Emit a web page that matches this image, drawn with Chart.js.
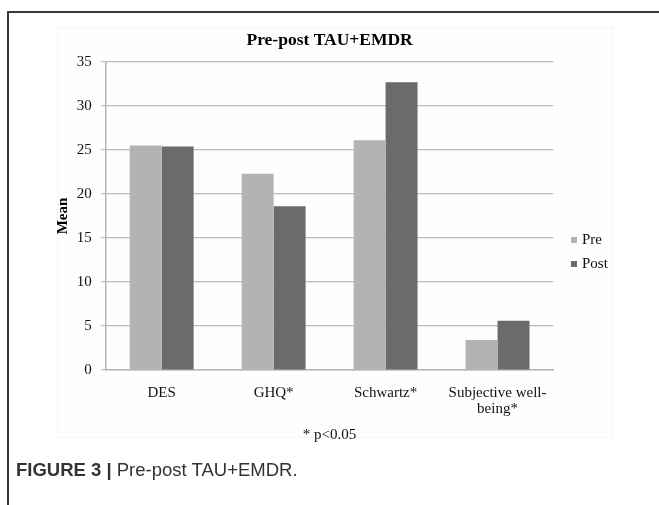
<!DOCTYPE html>
<html>
<head>
<meta charset="utf-8">
<script src="https://cdn.jsdelivr.net/npm/chart.js@4"></script>
<style>
  body { margin: 0; background: #fff; }
  #wrap { position: relative; width: 659px; height: 505px; overflow: hidden; }
  #frame { position: absolute; left: 7px; top: 11px; width: 700px; height: 600px;
           border-left: 2px solid #3a3a3a; border-top: 2px solid #3a3a3a; }
  #panel { position: absolute; left: 57px; top: 27px; width: 554px; height: 409px;
           background: #fefefe; border: 1px solid #f4f4f4; }
  #box { position: absolute; left: 0; top: 0; width: 659px; height: 505px; }
  #legend { position: absolute; left: 571px; top: 229px; font: 15px "Liberation Serif", serif; color: #111; }
  #legend div { height: 23.5px; line-height: 20px; white-space: nowrap; }
  #legend span { display: inline-block; width: 6px; height: 6px; margin-right: 5px; vertical-align: 1px; }
  #caption { position: absolute; left: 16px; top: 459px; font: 18.5px "Liberation Sans", Arial, sans-serif; color: #333; }
</style>
</head>
<body>
<div id="wrap">
  <div id="frame"></div>
  <div id="panel"></div>
  <div id="box"><canvas id="chart"></canvas></div>
  <div id="legend"></div>
  <div id="caption"><b>FIGURE 3 |</b> Pre-post TAU+EMDR.</div>
</div>
<script>
const categories = ['DES', 'GHQ*', 'Schwartz*', ['Subjective well-', 'being*']];
const seriesNames = ['Pre', 'Post'];
const preValues = [25.5, 22.3, 26.1, 3.4];
const postValues = [25.4, 18.6, 32.7, 5.6];
const yTicks = [0, 5, 10, 15, 20, 25, 30, 35];

const colors = ['#b3b3b3', '#6b6b6b'];
const serif = '"Liberation Serif", "Times New Roman", serif';

// keep the chart title centred over the plot area, like the original
const centerTitle = {
    id: 'centerTitle',
    afterLayout(chart) {
        if (chart.titleBlock) {
            chart.titleBlock.left = chart.chartArea.left;
            chart.titleBlock.right = chart.chartArea.right;
        }
    }
};

const ctx = document.getElementById('chart').getContext('2d');
const chart = new Chart(ctx, {
    type: 'bar',
    data: {
        labels: categories,
        datasets: [
            { label: seriesNames[0], data: preValues, backgroundColor: colors[0] },
            { label: seriesNames[1], data: postValues, backgroundColor: colors[1] }
        ]
    },
    plugins: [centerTitle],
    options: {
        responsive: true,
        maintainAspectRatio: false,
        animation: false,
        layout: { padding: { left: 30, right: 105.5, top: 14, bottom: 60 } },
        datasets: {
            bar: { categoryPercentage: 0.571, barPercentage: 1.0, borderWidth: 0 }
        },
        plugins: {
            legend: { display: false },
            tooltip: { enabled: false },
            title: {
                display: true,
                text: 'Pre-post TAU+EMDR',
                color: '#000',
                font: { family: serif, size: 17.5, weight: 'bold', lineHeight: 1.2 },
                padding: { top: 15.5, bottom: 11.5 }
            }
        },
        scales: {
            x: {
                grid: { display: false, drawTicks: false },
                border: { display: true, color: '#b5b5b5', width: 1.5 },
                ticks: {
                    color: '#111',
                    padding: 14.5,
                    font: { family: serif, size: 15, lineHeight: 1.08 }
                },
                title: {
                    display: true,
                    text: '* p<0.05',
                    color: '#111',
                    font: { family: serif, size: 15 },
                    padding: { top: 0, bottom: 1 }
                },
                afterFit: scale => { scale.height = 75; }
            },
            y: {
                min: 0,
                max: 35,
                afterBuildTicks: scale => { scale.ticks = yTicks.map(v => ({ value: v })); },
                grid: { color: '#bdbdbd', lineWidth: 1.2, tickLength: 5 },
                border: { display: true, color: '#b5b5b5', width: 1.5 },
                ticks: {
                    color: '#111',
                    padding: 9,
                    font: { family: serif, size: 15 }
                },
                title: {
                    display: true,
                    text: 'Mean',
                    color: '#000',
                    font: { family: serif, size: 15, weight: 'bold', lineHeight: 1.2 },
                    padding: { top: 24, bottom: 0 }
                },
                afterFit: scale => { scale.width = 75.7; }
            }
        }
    }
});

// legend built from the chart's own datasets
const legendEl = document.getElementById('legend');
chart.data.datasets.forEach(ds => {
    const row = document.createElement('div');
    const sw = document.createElement('span');
    sw.style.background = ds.backgroundColor;
    row.appendChild(sw);
    row.appendChild(document.createTextNode(ds.label));
    legendEl.appendChild(row);
});
</script>
</body>
</html>
